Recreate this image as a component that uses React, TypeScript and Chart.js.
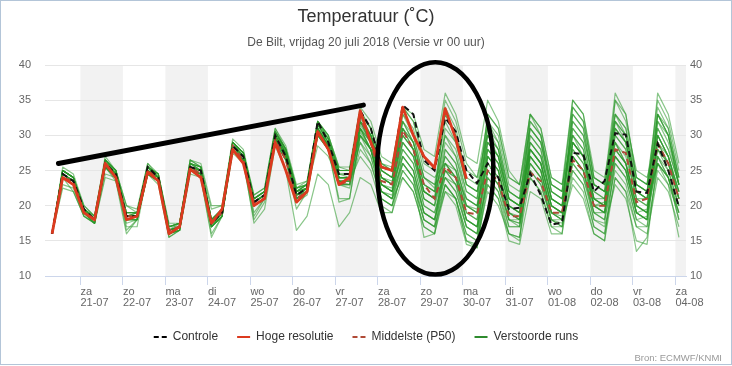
import { useEffect, useRef } from "react";
import { Chart, registerables } from "chart.js";

Chart.register(...registerables);

const FONT = "'Liberation Sans', Arial, Helvetica, sans-serif";

// ---- axis / labels ----
const dayNames = ["za", "zo", "ma", "di", "wo", "do", "vr", "za", "zo", "ma", "di", "wo", "do", "vr", "za"];
const dayDates = ["21-07", "22-07", "23-07", "24-07", "25-07", "26-07", "27-07", "28-07", "29-07", "30-07", "31-07", "01-08", "02-08", "03-08", "04-08"];
const shadedDayNumbers = [1, 3, 5, 7, 9, 11, 13, 15]; // days after 20-07 that get a grey band
const firstHour = 8; // first forecast time: 20-07 08:00
const stepHours = 6;
const axisStartHour = 4;
const axisEndHour = 366;
const yMin = 10;
const yMax = 40;
const yStep = 5;

// ---- series ----
const controle = [16,24.5,23.5,19.5, 18,26,24.5,18.5, 18.5,25.5,24,16, 17,25.5,25,17.5, 19,28.5,27,20.5, 21.5,30,27,21.5, 22.5,32,29,24.5, 24.5,33.5,31,25.5, 25,34.3,33,26.5, 25,32.5,30.5,25, 23.2,26,24,19.5, 19.7,24.6,21.5,17.3, 17.6,27.5,27.3,22, 23.5,30.3,30.1,22, 21.8,28.8,25,19.8];
const hogeResolutie = [16,24,23,19, 18,26,24,18, 18.5,24.8,23.5,16, 17,25.2,24,17.5, 19.5,28,26,20, 21,29,25,20.5, 22,30.5,28,23, 24,33.5,29,25.5, 25,34,30,27, 25.4,33.8,29.5,23.8];
const middelste = [16,24,23.5,19, 18,26,24,18.5, 18.5,25,24,16.5, 17,25.5,24.5,17.5, 19,28.5,26.5,20.5, 21,29.5,26.5,21, 22,30.5,28,23, 23.5,32.5,29,23.5, 23,30.7,28,23, 21,25.5,24,19, 18.8,25,23.5,18.5, 18.5,24.7,23.5,19, 19,26.5,25,20, 20,28,27.5,20.5, 21,28.8,26,21];

const run01 = [16,25,24,19.5, 18,26.5,25,18.5, 19,25.5,24.5,16.5, 17.5,26,25.5,18, 19.5,29,27.5,21, 22,30.5,28,22, 23,32,29.5,25, 25,33.5,31,26, 25.5,34,32,27, 25.5,33,30,25, 24,30,27,21, 20,27,25,19, 18.5,29,27,21, 21,31,29,22, 21,30,27,21];
const run02 = [16,24,23,19, 17.5,25.5,24,18, 18,24.5,23.5,16, 16.5,25,24.5,17, 18.5,28,26.5,20, 21,29,26.5,21, 22,30.5,28,21, 21,30,27,22, 21,26,24,19, 18,23,21,16, 15,22,20,16, 15.5,24,22,17, 17,26,24,19, 19,27,25,19, 19.5,27,24,20];
const run03 = [16,25.5,24.5,20, 18.5,27,25,20, 19,26,24,17, 17,26.5,25.5,19.5, 20,29.5,28,21.5, 22.5,31,28.5,23, 23.5,32,30,25.5, 25,32,29,24, 23.5,29,27,22, 21,24,23,20, 19.5,28,26,20, 19,25,23,18, 18,27,25,20, 20.5,29,27,21, 21,29,26,22];
const run04 = [16,22.5,22,18.5, 17.5,24,23.5,16, 18,24.5,23,15.5, 16.5,24.5,24,16, 18.5,27.5,26,18, 20.5,29,26.5,20.5, 21.5,30,28,23, 23,31,28,23, 22,31,29,24, 22.5,30,27,22, 21,33,31,24, 23,31,29,23, 22,30,27,20, 19,26,24,18, 17,25,23,15.5];
const run05 = [16,24.5,23.5,19, 18,26,24,18.5, 18.5,25,24,16, 17,25.5,25,17.5, 19,28.5,27,20.5, 21.5,30,27.5,21.5, 22.5,31,28.5,24, 24,32,29,23, 22,28,26,20, 19,24,22,17, 16,24,22,17, 17,26,24,18, 17.5,23,21,16, 15,24,22,17, 17,29,27,22];
const run06 = [16,25,24,19.5, 18,26.5,24.5,19, 19,25.5,24,17, 17.5,26,25,17.5, 19.5,29,27,21, 22,30.5,27.5,22, 23,31.5,29,24.5, 24.5,33,30,25, 24,32,29,23, 22,30,28,22, 21,29,27,21, 20,28,26,20, 19,33,31,23, 22,33,31,24, 23,34,31,24];
const run07 = [16,23,22.5,18.5, 17.5,25.5,23.5,17.5, 18,24.5,23.5,16, 16.5,25,24.5,17, 18.5,28,26.5,20, 21,29.5,26.5,19.5, 22,30.5,28,23, 23,29,26,21, 20,25,23,18, 17,22,21,16, 15,25,23,18, 18,29,27,21, 20,25,23,17, 16,26,24,18, 18.5,32,30,23];
const run08 = [16,24.5,23.5,19, 18,26,24.5,17, 17,25,23.5,16, 17,25,24.5,17, 19,28,26.5,17.5, 19.5,28.5,25,16.5, 18.5,24.5,23,17, 19,24,23,19, 19,26,24,15.5, 16,23,21,15, 14.5,25,23,17, 17,27,25,19, 19,28,26,20, 20,31,29,22, 21,26,24,18];
const run09 = [16,25,24,20, 18.5,26.5,25,20, 19.5,26,24.5,17.5, 17.5,26.5,26,20, 20,29,27.5,21.5, 22.5,31,28,22.5, 23.5,32,30,25.5, 25.5,34,32,27, 26,34,33,28, 27,36,33,27, 26,35,32,25, 23,33,30,23, 22,35,33,24, 23,36,33,24, 23,35,32,25];
const run10 = [16,24,23,19, 18,25.5,24,18, 18,25,23.5,16.5, 17,25,24.5,17.5, 19,28,26.5,20, 21,29.5,27,21, 22,30.5,28,23.5, 23.5,31,28,23, 22.5,31,28,21, 20,27,25,19, 18,26,24,18, 17.5,30,28,21, 20,27,25,19, 18,31,29,22, 21,28,25,20];
const run11 = [16,24.5,23.5,19.5, 18,26,24.5,18.5, 18.5,25.5,24,16.5, 17,25.5,25,17.5, 19,28.5,27,20.5, 21.5,30,27,21.5, 22.5,31,28.5,24, 24,32.5,30,24, 23,33,30,24, 23,32,29,23, 22,29,27,21, 20,32,30,23, 22,34,32,24, 23,32,29,22, 21,36,33,26];
const run12 = [16,25,24,19, 17.5,26,24.5,18, 18.5,25,24,16, 16.5,25.5,25,17, 18.5,28.5,27,20, 21,29.5,27,21, 22,30,28,23, 22.5,28,26,21, 20,27,25,19, 18,26,24,18, 17,27,25,19, 18.5,28,26,20, 19,31,29,22, 21,30,28,21, 20,26,23,19];
const run13 = [16,24,23.5,19, 18,25.5,24,18.5, 18.5,24.5,23.5,16.5, 17,25,24.5,17.5, 19,28,26.5,20.5, 21.5,29.5,27,22, 22.5,30.5,28.5,24, 24,31.5,29,24, 23,30,28,22, 21,28,26,20, 19,31,29,22, 21,27,25,19, 18,29,27,21, 20,33,31,23, 22,31,28,23];
const run14 = [16,25,24,19.5, 18.5,26.5,25,19, 19,25.5,24.5,17, 17.5,26,25.5,18, 19.5,29,27.5,21, 22,30.5,28,22.5, 23,31.5,29.5,25, 25,33,30,24, 23,27,25,19, 18,24,22,17, 16,28,26,20, 19,30,28,21, 20,32,30,23, 22,28,26,20, 19,33,30,23];
const run15 = [16,24.5,23.5,19, 18,26,24.5,18.5, 18.5,25,24,16.5, 17,25.5,25,17.5, 19,28.5,27,20.5, 21.5,30,27.5,21.5, 22.5,31,29,24, 24,32,29,23, 22,26,24,18, 17,23,21,15, 14,24,22,16, 15.5,27,25,19, 18,29,27,20, 19,29,26,19, 18,30,27,21];
const run16 = [16,24,22,18.5, 17.5,24.5,24,16.5, 18,24.5,23.5,15.5, 16.5,25,24,15.5, 18.5,28,26.5,18.5, 21,29.5,27,21, 22,30.5,28,23, 23,30.5,28,22, 21,29,27,21, 20,25,24,20, 19,30,28,21, 20,26,24,18, 17,24,22,16, 15,27,25,19, 18,33,30,23];
const run17 = [16,25,24,19.5, 18,26.5,25,18.5, 19,25.5,24,17, 17.5,26.5,25.5,18, 19.5,29,27.5,21, 22,30.5,28,22, 23,32,29.5,25, 25,33,31,25, 24,31,28,22, 21,34,31,24, 23,31,28,21, 20,29,27,21, 20,33,31,23, 22,35,32,25, 24,30,27,22];
const run18 = [16,24.5,23.5,19, 18,26,24.5,18.5, 18.5,25,24,16.5, 17,25,24.5,17.5, 19,28.5,27,20.5, 21.5,29.5,27,21.5, 22,30,28,23.5, 23,29,27,21, 20,25,23,18, 17,28,26,20, 19,27,25,19, 18,31,29,22, 21,32,30,23, 22,27,25,19, 18,27,24,19];
const run19 = [16,24,23.5,19.5, 18,25.5,24.5,18.5, 18.5,25,24,16.5, 17,25.5,25,17.5, 19,28,27,20.5, 21.5,30,27.5,22, 22.5,31,28.5,24, 24,32,30,25, 24,33,31,25, 24,26,25,21, 20,26,24,18, 17,25,23,18, 17,28,26,20, 19,30,28,21, 20,32,29,23];
const run20 = [16,25,24,19, 18,26,24.5,18, 18.5,25.5,24,16.5, 17,26,25,17.5, 19,29,27,20.5, 21.5,30,27.5,21.5, 22.5,31.5,29,24.5, 24,31,28,22, 21,24,22,17, 16,22,20,14.5, 14,23,21,15, 14.5,22,21,16, 16,25,23,17, 16,24,22,13.5, 15.5,26,24,18];
const run21 = [16,24.5,23.5,19, 18,26,24,18.5, 18.5,25,23.5,16.5, 17,25.5,24.5,17.5, 19,28.5,26.5,20.5, 21.5,30,27,21.5, 22.5,31,28.5,24, 24,32,30,25, 24,34,32,26, 25,35,32,26, 24,32,29,22, 21,31,29,22, 21,29,27,21, 20,32,30,23, 22,33,31,24];
const run22 = [16,24,23,19, 17.5,25.5,24,18, 18,24.5,23.5,16, 16.5,25,24.5,17, 18.5,28,26.5,19, 21,29,26.5,21, 22,30,28,20.5, 21,30,28,22, 21.5,28,26,20, 19,25,23,18, 17,29,27,20, 19,28,26,20, 19,26,24,18, 17.5,28,26,20, 19,29,26,21];
const run23 = [16,25,24,19.5, 18.5,26.5,25,19, 19,25.5,24.5,17, 17.5,26,25.5,18, 19.5,29,27.5,21, 22,30.5,28,22.5, 23,31.5,29.5,25, 25,33.5,31,26, 25,32,29,23, 22,33,30,23, 22,30,28,22, 21,33,31,24, 23,30,28,21, 20,35,33,24, 23,31,28,23];
const run24 = [16,24.5,23.5,19, 18,26,24.5,18, 18,25,24,16, 17,25.5,24.5,17, 19,28.5,27,20, 21,29.5,27,21, 22.5,30.5,28.5,23.5, 23.5,30,28,23, 22,30,28,22, 21,26,24,18, 17,25,23,18, 17.5,26,24,19, 18,27,25,19, 18,25,23,17, 16,24,22,17];
const run25 = [16,24,23.5,19, 18,26,24,18.5, 18.5,25,24,16.5, 17,25,25,17.5, 19,28,27,20.5, 21.5,30,27,21.5, 22.5,31,28.5,24, 24,31,29,23, 22,29,27,21, 20,31,29,23, 22,28,26,20, 19,32,30,22, 21,30,28,21, 20,32,30,23, 22,28,26,21];
const run26 = [16,25,24,19.5, 18,26.5,24.5,18.5, 19,25.5,24,17, 17.5,26,25,18, 19.5,29,27.5,21, 22,30.5,27.5,22, 23,31.5,29,24.5, 24.5,32,30,24, 23,31,29,23, 22,27,25,19, 18,32,30,23, 22,28,26,20, 19,34,32,24, 23,29,26,20, 19,26,24,19];
const run27 = [16,24.5,23.5,19, 18,26,24.5,18.5, 18.5,25,24,16.5, 17,25.5,25,17.5, 19,28.5,27,20.5, 21.5,29.5,27,22, 22.5,28.5,27,23.5, 23.5,27,25,20, 19,24,22,17, 16,26,24,18, 17,23,21,16, 15,28,26,20, 19,27,25,18, 17,23,21,15, 14.5,27,25,20];
const run28 = [16,24,23,19, 17.5,25.5,24,18, 18,24.5,23.5,16, 16.5,25,24.5,17, 18.5,28,26.5,20, 21,29.5,27,21.5, 22,30.5,28,23.5, 23.5,31,29,24, 23,32,30,24, 23,25,24,21, 20,27,25,19, 18,29,27,21, 20,31,29,22, 21,27,25,19, 18,30,27,22];
const run29 = [16,25,24,19.5, 18,26,25,19, 19,25.5,24.5,17, 17.5,26,25.5,18, 19.5,29,27.5,21, 22,30.5,28,22.5, 23,32,30,25, 25,33,31,26, 25,30,28,22, 21,29,27,21, 20,33,31,24, 23,33,31,24, 23,35,33,25, 24,33,30,23, 22,33,30,24];
const run30 = [16,24.5,23.5,19, 18,25.5,24.5,18.5, 18.5,25,24,16.5, 17,25,24.5,17.5, 19,28.5,27,20.5, 21.5,30,27,21.5, 22.5,31,28.5,24, 24,30,28,22, 21,27,25,19, 18,25,23,17, 16,27,25,19, 18,24,22,17, 16,29,27,20, 19,28,26,20, 19,28,26,21];

const verstoordeRuns = [run01, run02, run03, run04, run05, run06, run07, run08, run09, run10, run11, run12, run13, run14, run15, run16, run17, run18, run19, run20, run21, run22, run23, run24, run25, run26, run27, run28, run29, run30];

// ---- hand-drawn annotations (in data units: hours since 20-07 00:00, degrees C) ----
const trendLineHours = [11.6, 183.8];
const trendLineTemps = [26.0, 34.3];
const ellipseCenterHour = 224.4;
const ellipseCenterTemp = 25.3;
const ellipseHalfWidthHours = 32.8;
const ellipseHalfHeightTemp = 15.1;

// ---- styles ----
const COL_CONTROLE = "#111111";
const COL_HRES = "#dc3a1f";
const COL_P50 = "#b04a36";
const COL_RUNS = "rgba(40,152,40,0.55)";
const COL_RUNS_LEGEND = "#2e8b2e";

const legendEntries = [
  { text: "Controle", color: "#000000", dash: [5, 3] },
  { text: "Hoge resolutie", color: COL_HRES, dash: [] as number[] },
  { text: "Middelste (P50)", color: COL_P50, dash: [5, 3] },
  { text: "Verstoorde runs", color: COL_RUNS_LEGEND, dash: [] as number[] },
];

const toPoints = (vals: number[]) => vals.map((v, i) => ({ x: firstHour + stepHours * i, y: v }));

const dayShadePlugin = {
  id: "dayShade",
  beforeDraw(chart: any) {
    const { ctx, chartArea, scales } = chart;
    const xs = scales.x;
    ctx.save();
    ctx.fillStyle = "#f2f2f2";
    shadedDayNumbers.forEach((d) => {
      const x0 = Math.max(xs.getPixelForValue(d * 24), chartArea.left);
      const x1 = Math.min(xs.getPixelForValue(d * 24 + 24), chartArea.right);
      if (x1 > x0) ctx.fillRect(x0, chartArea.top, x1 - x0, chartArea.bottom - chartArea.top);
    });
    ctx.restore();
  },
};

const ellipsePlugin = {
  id: "ellipseMark",
  afterDatasetsDraw(chart: any) {
    const { ctx, scales } = chart;
    const xs = scales.x;
    const ys = scales.y;
    const cx = xs.getPixelForValue(ellipseCenterHour);
    const cy = ys.getPixelForValue(ellipseCenterTemp);
    const rx = Math.abs(xs.getPixelForValue(ellipseCenterHour + ellipseHalfWidthHours) - cx);
    const ry = Math.abs(ys.getPixelForValue(ellipseCenterTemp + ellipseHalfHeightTemp) - cy);
    ctx.save();
    ctx.beginPath();
    ctx.ellipse(cx, cy, rx, ry, 0, 0, Math.PI * 2);
    ctx.lineWidth = 4.5;
    ctx.strokeStyle = "#000";
    ctx.stroke();
    ctx.restore();
  },
};

export default function App() {
  const canvasRef = useRef<HTMLCanvasElement | null>(null);

  useEffect(() => {
    document.body.style.margin = "0";
    const canvas = canvasRef.current;
    if (!canvas) return;
    Chart.defaults.font.family = FONT;

    const datasets: any[] = [
      {
        label: "trend",
        data: trendLineHours.map((h, i) => ({ x: h, y: trendLineTemps[i] })),
        borderColor: "#000",
        borderWidth: 5,
        borderCapStyle: "round",
        pointRadius: 0,
      },
      {
        label: "Hoge resolutie",
        data: toPoints(hogeResolutie),
        borderColor: COL_HRES,
        borderWidth: 2.8,
        pointRadius: 0,
        borderJoinStyle: "round",
      },
      {
        label: "Controle",
        data: toPoints(controle),
        borderColor: COL_CONTROLE,
        borderWidth: 2,
        borderDash: [6, 4],
        pointRadius: 0,
      },
      {
        label: "Middelste (P50)",
        data: toPoints(middelste),
        borderColor: COL_P50,
        borderWidth: 2,
        borderDash: [6, 4],
        pointRadius: 0,
      },
      ...verstoordeRuns.map((r, k) => ({
        label: "run" + (k + 1),
        data: toPoints(r),
        borderColor: COL_RUNS,
        borderWidth: 1.2,
        pointRadius: 0,
        borderJoinStyle: "round",
      })),
    ];

    const tickHours = dayDates.map((_, k) => 24 * (k + 1));
    const tickFont = { family: FONT, size: 11 };

    const chart = new Chart(canvas, {
      type: "line",
      data: { datasets },
      options: {
        responsive: false,
        animation: false,
        events: [],
        layout: { padding: { left: 0, right: 0, top: 0, bottom: 13 } },
        elements: { line: { tension: 0 }, point: { radius: 0 } },
        scales: {
          x: {
            type: "linear",
            min: axisStartHour,
            max: axisEndHour,
            afterBuildTicks: (s: any) => {
              s.ticks = tickHours.map((v) => ({ value: v }));
            },
            afterFit: (s: any) => {
              s.height = 36;
            },
            ticks: {
              callback: (_v: any, i: number) => [dayNames[i], dayDates[i]],
              align: "start",
              autoSkip: false,
              maxRotation: 0,
              minRotation: 0,
              padding: 1.5,
              color: "#666666",
              font: { family: FONT, size: 11, lineHeight: 1 },
            },
            grid: { display: true, drawOnChartArea: false, drawTicks: true, tickLength: 9, color: "#ccd6eb" },
            border: { display: true, color: "#ccd6eb" },
          },
          y: {
            position: "left",
            min: yMin,
            max: yMax,
            afterFit: (s: any) => {
              s.width = 45;
            },
            ticks: { stepSize: yStep, padding: 14, color: "#666666", font: tickFont },
            grid: { color: "#e6e6e6", drawTicks: false },
            border: { display: false },
          },
          y2: {
            position: "right",
            min: yMin,
            max: yMax,
            afterFit: (s: any) => {
              s.width = 46;
            },
            ticks: { stepSize: yStep, padding: 4, color: "#666666", font: tickFont },
            grid: { display: false, drawTicks: false },
            border: { display: false },
          },
        },
        plugins: {
          title: {
            display: true,
            text: "Temperatuur (˚C)",
            color: "#333333",
            font: { family: FONT, size: 18, weight: "normal" },
            padding: { top: 6, bottom: 0 },
          },
          subtitle: {
            display: true,
            text: "De Bilt, vrijdag 20 juli 2018 (Versie vr 00 uur)",
            color: "#555555",
            font: { family: FONT, size: 12, weight: "normal" },
            padding: { top: 8.2, bottom: 14.8 },
          },
          legend: {
            position: "bottom",
            onClick: () => {},
            labels: {
              usePointStyle: true,
              pointStyleWidth: 13,
              padding: 19,
              color: "#333333",
              font: { family: FONT, size: 12 },
              generateLabels: () =>
                legendEntries.map((e) => ({
                  text: e.text,
                  fillStyle: e.color,
                  strokeStyle: e.color,
                  lineWidth: 2,
                  lineDash: e.dash,
                  pointStyle: "line",
                  hidden: false,
                  fontColor: "#333333",
                })),
            },
          },
          tooltip: { enabled: false },
        },
      } as any,
      plugins: [dayShadePlugin, ellipsePlugin],
    });

    return () => chart.destroy();
  }, []);

  return (
    <div style={{ position: "fixed", left: 0, top: 0, width: 732, height: 366, background: "#fff" }}>
      <canvas ref={canvasRef} width={732} height={366} style={{ display: "block" }} />
      <div
        style={{
          position: "absolute",
          right: 10,
          top: 352,
          fontFamily: FONT,
          fontSize: 9.5,
          lineHeight: "11px",
          color: "#999999",
        }}
      >
        Bron: ECMWF/KNMI
      </div>
      <div
        style={{
          position: "absolute",
          left: 0,
          top: 0,
          width: 732,
          height: 365,
          boxSizing: "border-box",
          border: "1px solid #b3c5d8",
          pointerEvents: "none",
        }}
      />
    </div>
  );
}
